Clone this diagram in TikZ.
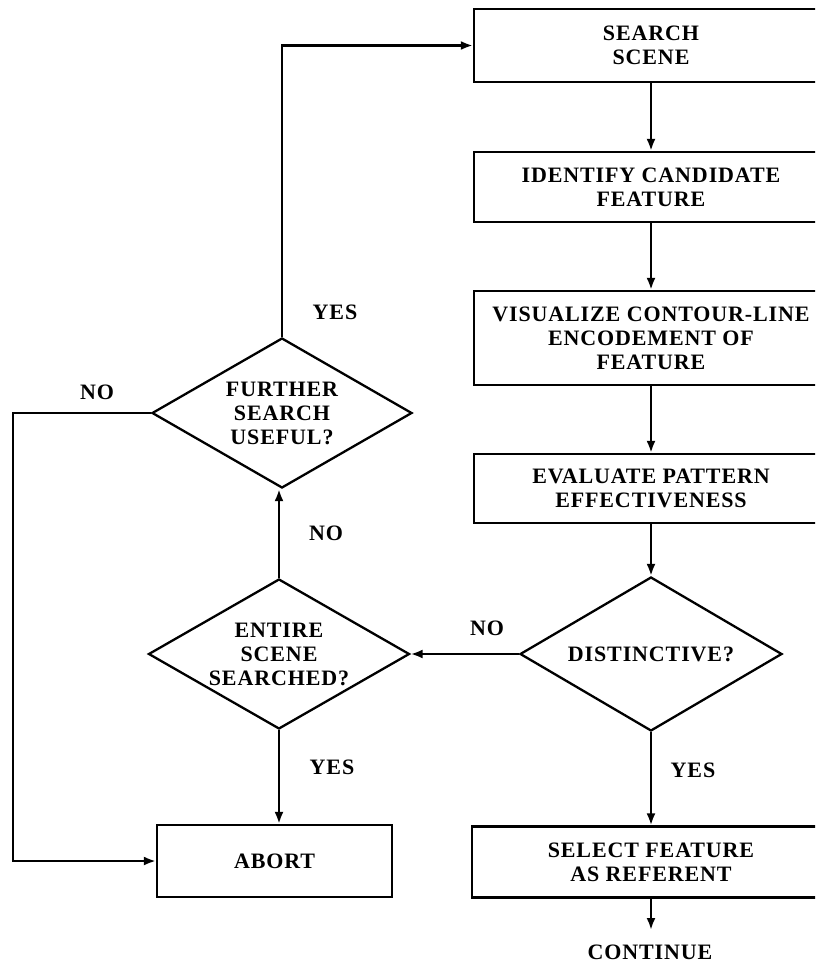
\documentclass[tikz,border=0pt]{standalone}
\usepackage{fontspec}
\setmainfont{Liberation Serif}[LetterSpace=4]
\usetikzlibrary{shapes.geometric,arrows.meta}
\begin{document}
\begin{tikzpicture}[x=1pt,y=-1pt, line width=2.3pt,
  every node/.style={font=\fontsize{22}{24}\selectfont\bfseries},
  box/.style={draw, rectangle, inner sep=0pt, align=center},
  dia/.style={draw, diamond, inner sep=0pt},
  arr/.style={-{Latex[length=12pt,width=9pt]}},
  lbl/.style={inner sep=0pt, align=center}]
\useasboundingbox (0,0) rectangle (815,966);
\clip (0,0) rectangle (815,966);
% right column
\node[box, minimum width=354pt, minimum height=73pt] (search) at (651,45.5) {SEARCH\\SCENE};
\node[box, minimum width=354pt, minimum height=70pt] (ident) at (651,187) {IDENTIFY CANDIDATE\\FEATURE};
\node[box, minimum width=354pt, minimum height=94pt] (visual) at (651,338) {VISUALIZE CONTOUR-LINE\\ENCODEMENT OF\\FEATURE};
\node[box, minimum width=354pt, minimum height=69pt] (eval) at (651,488.5) {EVALUATE PATTERN\\EFFECTIVENESS};
\node[dia, minimum width=262pt, minimum height=154pt, label={[lbl]center:DISTINCTIVE?}] (dist) at (651,654) {};
\node[box, minimum width=358pt, minimum height=71pt] (select) at (651,862) {SELECT FEATURE\\AS REFERENT};
\node[lbl] (cont) at (650,952) {CONTINUE};
\coordinate (contin) at (651,930);
% left column
\node[dia, minimum width=260pt, minimum height=150pt, label={[lbl]center:FURTHER\\SEARCH\\USEFUL?}] (further) at (282,413) {};
\node[dia, minimum width=261pt, minimum height=150pt, label={[lbl]center:ENTIRE\\SCENE\\SEARCHED?}] (entire) at (279,654) {};
\node[box, minimum width=235pt, minimum height=72pt] (abort) at (274.5,861) {ABORT};
% connectors
\draw[arr] (search.south) -- (ident.north);
\draw[arr] (ident.south) -- (visual.north);
\draw[arr] (visual.south) -- (eval.north);
\draw[arr] (eval.south) -- (dist.north);
\draw[arr] (dist.south) -- (select.north);
\draw[arr] (select.south) -- (contin);
\draw[arr] (dist.west) -- (entire.east);
\draw[arr] (entire.north) -- (entire.north |- further.south);
\draw[arr] (entire.south) -- (entire.south |- abort.north);
\draw[arr] (further.north) |- (search.west);
\draw[arr] (further.west) -- ++(-138,0) |- (abort.west);
% labels
\node[lbl] (l1) at (335,312) {YES};
\node[lbl] (l2) at (97,392) {NO};
\node[lbl] (l3) at (326,533) {NO};
\node[lbl] (l4) at (487,628) {NO};
\node[lbl] (l5) at (332,767) {YES};
\node[lbl] (l6) at (693,770) {YES};
\end{tikzpicture}
\end{document}
